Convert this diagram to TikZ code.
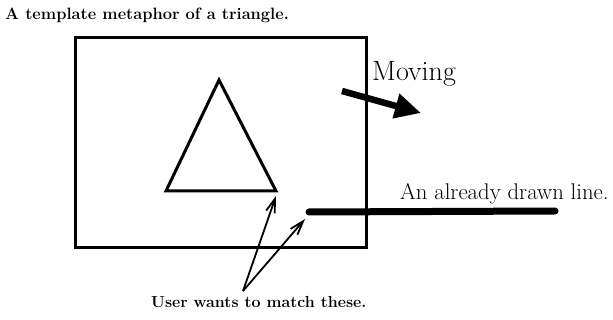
\documentclass[tikz,border=0pt]{standalone}
\usetikzlibrary{arrows.meta}
\tikzset{
  frame/.style={line width=3pt},
  bigarrow/.style={line width=6.5pt,-{Triangle[length=26pt,width=24pt]}},
  matcharrow/.style={line width=1.8pt,-{Straight Barb[length=14pt,width=9pt]}},
  label/.style={inner sep=0pt,anchor=base west},
}
\begin{document}
\begin{tikzpicture}[x=1pt,y=-1pt]
            \useasboundingbox (0,0) rectangle (613,320);
            % The template and its triangle
            \draw[frame] (75,38) rectangle (366,248);
            \coordinate (apex) at (219,80);
            \coordinate (left) at (166,191);
            \coordinate (right) at (276,191);
            \draw[frame,line join=miter] (apex) -- (left) -- (right) -- cycle;
            \node[label,font=\fontsize{16.4}{18}\selectfont\bfseries] (title) at (5,20) {A template metaphor of a triangle.};

            % Moving the template
            \node[label,font=\fontsize{28}{30}\selectfont] (moving) at (372,81) {Moving};
            \coordinate (mstart) at (342,91);
            \coordinate (mend) at (421,113);
            \draw[bigarrow] (mstart) -- (mend);

            % The line that is already there
            \node[label,font=\fontsize{22.7}{25}\selectfont] (drawn) at (400,200) {An already drawn line.};
            \coordinate (lstart) at (309,212);
            \coordinate (lend) at (555,211);
            \draw[line width=7pt,line cap=round] (lstart) -- (lend);

            % What the user wants to match
            \node[label,font=\fontsize{16}{18}\selectfont\bfseries] (user) at (151,308) {User wants to match these.};
            \coordinate (from) at (243,291);
            \coordinate (corner) at (276,196);
            \coordinate (end) at (305,219);
            \draw[matcharrow] (from) -- (corner);
            \draw[matcharrow] (from) -- (end);
        \end{tikzpicture}
\end{document}
